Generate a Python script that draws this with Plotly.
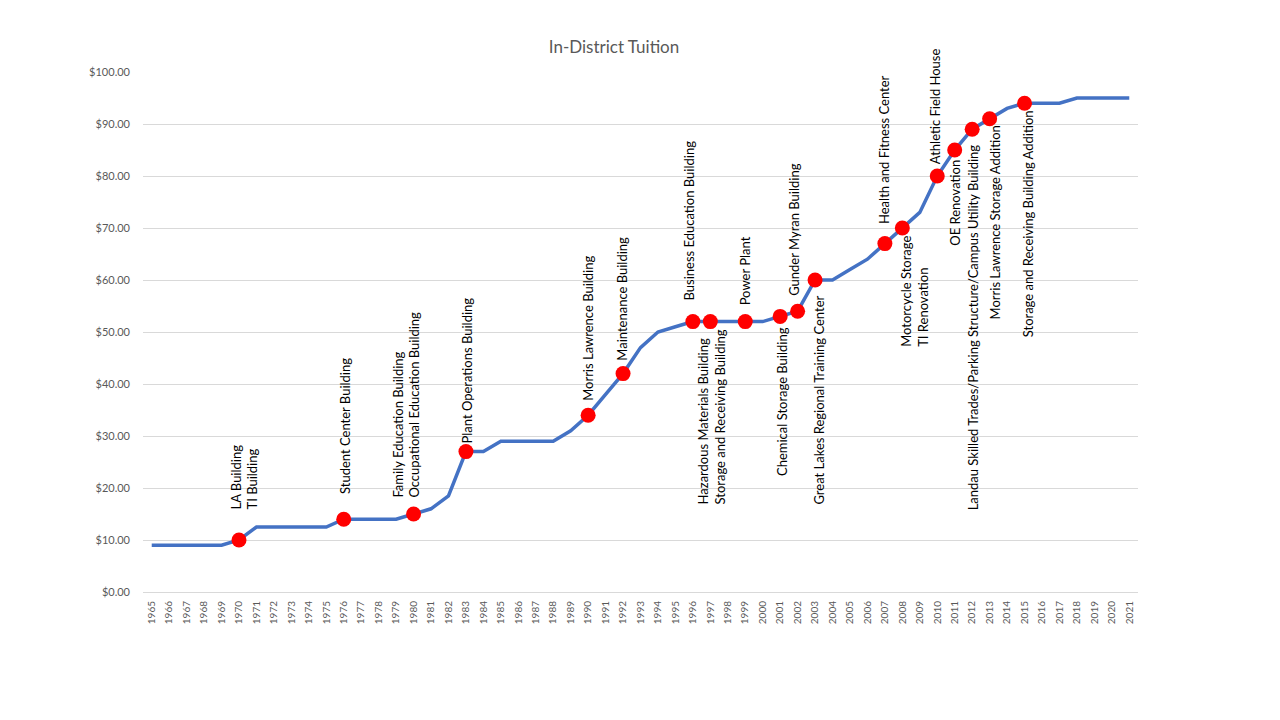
import plotly.graph_objects as go

# data
years = [1965, 1966, 1967, 1968, 1969, 1970, 1971, 1972, 1973, 1974,
         1975, 1976, 1977, 1978, 1979, 1980, 1981, 1982, 1983, 1984,
         1985, 1986, 1987, 1988, 1989, 1990, 1991, 1992, 1993, 1994,
         1995, 1996, 1997, 1998, 1999, 2000, 2001, 2002, 2003, 2004,
         2005, 2006, 2007, 2008, 2009, 2010, 2011, 2012, 2013, 2014,
         2015, 2016, 2017, 2018, 2019, 2020, 2021]

tuition = [9, 9, 9, 9, 9, 10, 12.5, 12.5, 12.5, 12.5,
           12.5, 14, 14, 14, 14, 15, 16, 18.5, 27, 27,
           29, 29, 29, 29, 31, 34, 38, 42, 47, 50,
           51, 52, 52, 52, 52, 52, 53, 54, 60, 60,
           62, 64, 67, 70, 73, 80, 85, 89, 91, 93,
           94, 94, 94, 95, 95, 95, 95]

building_years = [1970, 1976, 1980, 1983, 1990, 1992, 1996, 1997, 1999, 2001,
                  2002, 2003, 2007, 2008, 2010, 2011, 2012, 2013, 2015]

building_names = [
    "LA Building<br>TI Building",
    "Student Center Building",
    "Family Education Building<br>Occupational Education Building",
    "Plant Operations Building",
    "Morris Lawrence Building",
    "Maintenance Building",
    "Business Education Building",
    "Hazardous Materials Building<br>Storage and Receiving Building",
    "Power Plant",
    "Chemical Storage Building",
    "Gunder Myran Building",
    "Great Lakes Regional Training Center",
    "Health and Fitness Center",
    "Motorcycle Storage<br>TI Renovation",
    "Athletic Field House",
    "OE Renovation",
    "Landau Skilled Trades/Parking Structure/Campus Utility Building",
    "Morris Lawrence Storage Addition",
    "Storage and Receiving Building Addition",
]

# label placement: side of the point, and pixel nudges
label_side = ["above", "above", "above", "above", "above", "above", "above", "below", "above", "below",
              "above", "below", "above", "below", "above", "below", "below", "below", "below"]
label_dx = [5, 1, -8, 1, 0, -1, -4, 1, 0, 2, -3, 3, -1, 12, -2, 0, 1, 5, 3]
label_dy = [28, 23, 14, 6, 12, 11, 19, 6, 14, 9, 13, 14, 18, 6, 10, 8, 13, 5, 5]

building_values = [tuition[years.index(y)] for y in building_years]

font_family = "Lato, 'Open Sans', sans-serif"
grey = "#595959"

fig = go.Figure()

fig.add_trace(go.Scatter(
    x=years, y=tuition, mode="lines",
    line=dict(color="#4472C4", width=3.5),
    hoverinfo="skip", showlegend=False,
))

fig.add_trace(go.Scatter(
    x=building_years, y=building_values, mode="markers",
    marker=dict(color="#FF0000", size=15),
    showlegend=False,
))

for yr, val, name, side, dx, dy in zip(building_years, building_values, building_names,
                                       label_side, label_dx, label_dy):
    fig.add_annotation(
        x=yr, y=val, text=name, showarrow=False, textangle=-90,
        xanchor="center", yanchor="bottom" if side == "above" else "top",
        xshift=dx, yshift=dy if side == "above" else -dy,
        align="left", font=dict(family=font_family, size=13, color="black"),
    )

# page body adds an 8px offset, so margins are nudged to line up with the original
fig.update_layout(
    width=1280, height=720,
    paper_bgcolor="white", plot_bgcolor="white",
    margin=dict(l=135, r=150, t=64, b=136),
    title=dict(text="In-District Tuition", x=(614 - 8) / 1280, xanchor="center",
               y=1 - 39 / 720, yanchor="middle", yref="container",
               font=dict(family=font_family, size=17, color=grey)),
    font=dict(family=font_family, color=grey),
    xaxis=dict(
        range=[1964.5, 2021.5], tickmode="array", tickvals=years,
        ticktext=[str(y) for y in years], tickangle=-90,
        tickfont=dict(size=10, color=grey), showgrid=False, zeroline=False,
        showline=True, linecolor="#D9D9D9", linewidth=1, ticks="",
        ticklabelstandoff=4,
    ),
    yaxis=dict(
        range=[0, 100], dtick=10, tickprefix="$", tickformat=".2f",
        tickfont=dict(size=11, color=grey), showgrid=True, gridcolor="#D9D9D9",
        gridwidth=1, zeroline=False, showline=False, ticks="",
        ticklabelstandoff=12,
    ),
)

fig.write_html("out.html")
